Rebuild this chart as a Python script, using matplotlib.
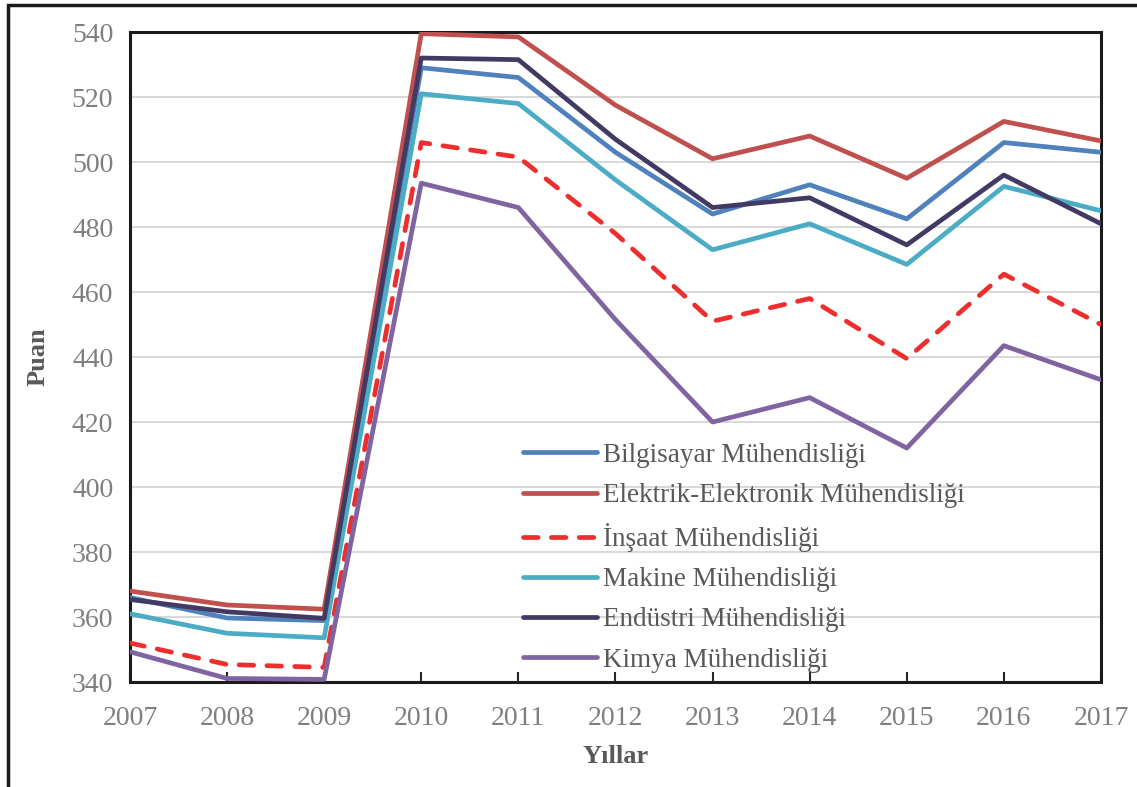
import matplotlib.pyplot as plt
from matplotlib.patches import Rectangle

plt.rcParams['font.family'] = ['Liberation Serif', 'DejaVu Serif']

# veriler
yillar = [2007, 2008, 2009, 2010, 2011, 2012, 2013, 2014, 2015, 2016, 2017]
bilgisayar = [366, 359.7, 358.9, 529, 526, 503, 484, 493, 482.5, 506, 503]
elektrik = [368, 363.7, 362.4, 539.5, 538.5, 517.5, 501, 508, 495, 512.5, 506.5]
insaat = [352, 345.4, 344.5, 506, 501.5, 478, 451, 458, 439.5, 465.5, 450]
makine = [361, 355, 353.6, 521, 518, 494.5, 473, 481, 468.5, 492.5, 485]
endustri = [365.4, 361.6, 359.6, 532, 531.5, 507, 486, 489, 474.5, 496, 481]
kimya = [349.3, 341.1, 340.8, 493.5, 486, 451.5, 420, 427.5, 412, 443.5, 433]

seriler = [
    ("Bilgisayar Mühendisliği", bilgisayar, "#4F81BD", "-"),
    ("Elektrik-Elektronik Mühendisliği", elektrik, "#C0504D", "-"),
    ("İnşaat Mühendisliği", insaat, "#EE2D2D", "--"),
    ("Makine Mühendisliği", makine, "#4BACC6", "-"),
    ("Endüstri Mühendisliği", endustri, "#433A64", "-"),
    ("Kimya Mühendisliği", kimya, "#8064A2", "-"),
]

fig = plt.figure(figsize=(11.37, 7.87), dpi=100)
ax = fig.add_axes([0.1143, 0.1334, 0.854, 0.8259])

for ad, degerler, renk, stil in seriler:
    if stil == "--":
        ax.plot(yillar, degerler, color=renk, lw=3.4, linestyle=(0, (3.1, 2.8)),
                dash_capstyle="round", label=ad, zorder=3)
    else:
        ax.plot(yillar, degerler, color=renk, lw=3.4, solid_capstyle="round",
                label=ad, zorder=3)

ax.set_xlim(2007, 2017)
ax.set_ylim(340, 540)
ax.set_xticks(yillar)
ax.set_yticks(range(340, 541, 20))
ax.grid(axis="y", color="#D9D9D9", lw=1.5, zorder=0)
ax.tick_params(axis="x", direction="in", length=7, width=1.5, color="#262626",
               labelsize=20, labelcolor="#7F7F7F", pad=17)
ax.tick_params(axis="y", length=0, labelsize=20, labelcolor="#7F7F7F", pad=12)
for sp in ax.spines.values():
    sp.set_linewidth(2.2)
    sp.set_color("#1A1A1A")

ax.set_ylabel("Puan", fontsize=19, fontweight="bold", color="#595959", labelpad=16)
ax.set_xlabel("Yıllar", fontsize=19, fontweight="bold", color="#595959", labelpad=10)

leg = ax.legend(loc="upper left", bbox_to_anchor=(512 / 1137, 1 - 432 / 787),
                bbox_transform=fig.transFigure, frameon=False, fontsize=19.5,
                handlelength=2.75, handletextpad=0.2, labelspacing=0.56,
                borderaxespad=0)
for t in leg.get_texts():
    t.set_color("#595959")

# dış çerçeve
fig.patches.append(Rectangle((8 / 1137, -0.1), 1.2, 1 - 5 / 787 + 0.1,
                             transform=fig.transFigure, fill=False,
                             edgecolor="#1A1A1A", lw=2.5))

plt.savefig("out.png", dpi=100)
